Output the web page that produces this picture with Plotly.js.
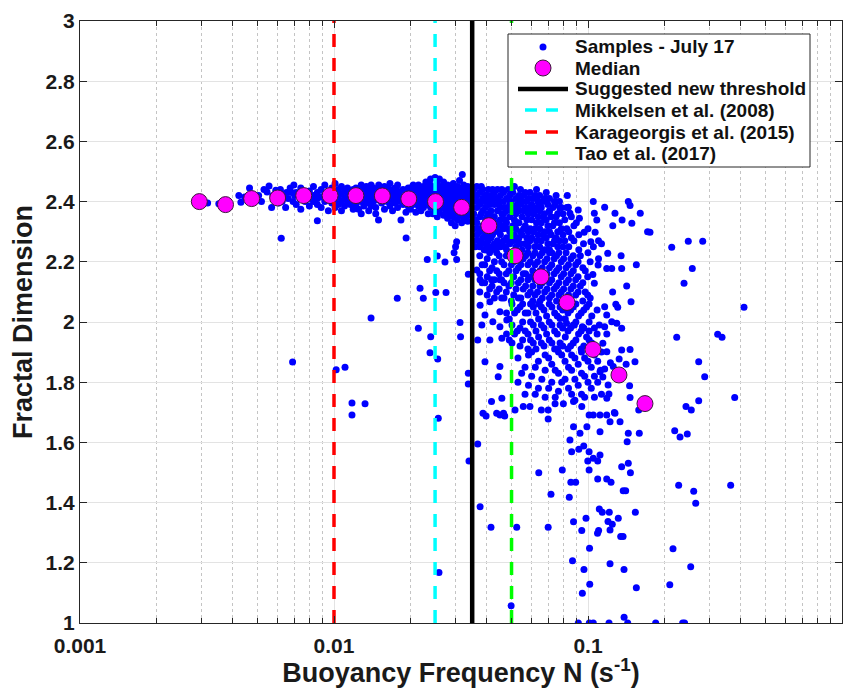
<!DOCTYPE html>
<html>
<head>
<meta charset="utf-8">
<script src="https://cdn.plot.ly/plotly-3.0.1.min.js"></script>
<style>html,body{margin:0;padding:0;background:#fff;}#chart{width:846px;height:688px;}</style>
</head>
<body>
<div id="chart"></div>
<script>
// ---------------- DATA ----------------
// Buoyancy frequency N (s^-1) and fractal dimension D of the samples, grouped by region
const bandLeft = [[0.00318,2.395],[0.00352,2.393],[0.00422,2.420],[0.00430,2.398],[0.00445,2.415],[0.00465,2.445],[0.00475,2.425],[0.00490,2.405],[0.00505,2.420],[0.00518,2.400],[0.00530,2.440],[0.00545,2.432],[0.00555,2.452],[0.00568,2.380],[0.00575,2.420],[0.00590,2.438],[0.00605,2.395],[0.00615,2.44],[0.00625,2.40],[0.00635,2.425],[0.00645,2.38],[0.00650,2.430],[0.00660,2.410],[0.00672,2.445],[0.00680,2.43],[0.00690,2.400],[0.00695,2.455],[0.00700,2.420]];

const bandMid = [[0.0071,2.39],[0.0071,2.43],[0.0074,2.41],[0.0074,2.375],[0.0074,2.445],[0.0077,2.42],[0.0077,2.40],[0.0080,2.435],[0.0080,2.385],[0.0080,2.41],[0.0083,2.42],[0.0083,2.40],[0.0083,2.45],[0.0086,2.39],[0.0086,2.43],[0.0086,2.41],[0.0089,2.44],[0.0089,2.415],[0.0089,2.38],[0.0092,2.425],[0.0092,2.40],[0.0092,2.455],[0.0095,2.41],[0.0095,2.435],[0.0095,2.37],[0.0098,2.42],[0.0098,2.395],[0.0098,2.445],[0.0101,2.43],[0.0101,2.405],[0.0101,2.38],[0.0101,2.46],[0.0104,2.415],[0.0104,2.44],[0.0104,2.39],[0.0107,2.425],[0.0107,2.40],[0.0107,2.45],[0.0107,2.37],[0.0110,2.41],[0.0110,2.435],[0.0110,2.385],[0.0113,2.42],[0.0113,2.445],[0.0113,2.40],[0.0116,2.43],[0.0116,2.39],[0.0116,2.41],[0.0119,2.44],[0.0119,2.415],[0.0119,2.375],
[0.0122,2.42],[0.0122,2.39],[0.0122,2.445],[0.0125,2.41],[0.0125,2.435],[0.0125,2.375],[0.0128,2.425],[0.0128,2.40],[0.0128,2.455],[0.0128,2.36],[0.0131,2.415],[0.0131,2.44],[0.0131,2.385],[0.0134,2.43],[0.0134,2.405],[0.0134,2.45],[0.0137,2.42],[0.0137,2.395],[0.0137,2.44],[0.0137,2.37],[0.0140,2.41],[0.0140,2.435],[0.0140,2.385],[0.0140,2.455],[0.0143,2.425],[0.0143,2.40],[0.0143,2.445],[0.0146,2.415],[0.0146,2.44],[0.0146,2.38],[0.0146,2.36],[0.0150,2.43],[0.0150,2.405],[0.0150,2.455],[0.0154,2.42],[0.0154,2.395],[0.0154,2.44],[0.0158,2.41],[0.0158,2.435],[0.0158,2.375],[0.0158,2.45],[0.0162,2.425],[0.0162,2.40],[0.0162,2.445],[0.0166,2.415],[0.0166,2.44],[0.0166,2.385],[0.0166,2.46],[0.0170,2.43],[0.0170,2.405],[0.0170,2.37],[0.0174,2.42],[0.0174,2.395],[0.0174,2.445],[0.0178,2.41],[0.0178,2.435],[0.0178,2.38],[0.0178,2.455],[0.0183,2.425],[0.0183,2.40],[0.0187,2.415],[0.0187,2.44],[0.0187,2.39],[0.0192,2.43],[0.0192,2.405],[0.0192,2.365],[0.0196,2.42],[0.0196,2.445],[0.0196,2.385]];

const bandRight = [[0.0200,2.425],[0.0200,2.40],[0.0200,2.445],[0.0200,2.375],[0.0205,2.41],[0.0205,2.435],[0.0205,2.39],[0.0205,2.455],[0.0210,2.42],[0.0210,2.40],[0.0210,2.445],[0.0210,2.365],[0.0215,2.43],[0.0215,2.41],[0.0215,2.385],[0.0215,2.455],[0.0220,2.415],[0.0220,2.44],[0.0220,2.395],[0.0220,2.37],[0.0225,2.425],[0.0225,2.40],[0.0225,2.45],[0.0225,2.38],[0.0230,2.41],[0.0230,2.435],[0.0230,2.39],[0.0230,2.465],[0.0235,2.42],[0.0235,2.395],[0.0235,2.445],[0.0235,2.36],[0.0240,2.43],[0.0240,2.405],[0.0240,2.38],[0.0240,2.455],[0.0240,2.475],[0.0245,2.415],[0.0245,2.44],[0.0245,2.39],[0.0245,2.36],[0.0250,2.42],[0.0250,2.40],[0.0250,2.445],[0.0250,2.375],[0.0250,2.48],[0.0255,2.43],[0.0255,2.41],[0.0255,2.385],[0.0255,2.46],[0.0255,2.35],[0.0260,2.415],[0.0260,2.44],[0.0260,2.395],[0.0260,2.365],[0.0260,2.475],[0.0265,2.425],[0.0265,2.40],[0.0265,2.45],[0.0265,2.38],[0.0270,2.41],[0.0270,2.435],[0.0270,2.39],[0.0270,2.355],[0.0270,2.465],[0.0275,2.42],[0.0275,2.395],[0.0275,2.445],[0.0275,2.37],[0.0280,2.43],[0.0280,2.405],[0.0280,2.38],[0.0280,2.455],[0.0280,2.345],[0.0285,2.415],[0.0285,2.44],[0.0285,2.39],[0.0285,2.36],[0.0290,2.42],[0.0290,2.40],[0.0290,2.45],[0.0290,2.375],[0.0290,2.33],[0.0295,2.43],[0.0295,2.41],[0.0295,2.385],[0.0295,2.46],[0.0295,2.35],[0.0300,2.415],[0.0300,2.44],[0.0300,2.395],[0.0300,2.365],[0.0300,2.32],[0.0306,2.425],[0.0306,2.40],[0.0306,2.45],[0.0306,2.38],[0.0306,2.34],[0.0312,2.41],[0.0312,2.435],[0.0312,2.39],[0.0312,2.355],[0.0312,2.47],[0.0318,2.42],[0.0318,2.395],[0.0318,2.445],[0.0318,2.37],[0.0318,2.33],[0.0320,2.49],[0.0324,2.43],[0.0324,2.405],[0.0324,2.38],[0.0324,2.455],[0.0324,2.345],[0.0330,2.415],[0.0330,2.44],[0.0330,2.39],[0.0330,2.36],[0.0336,2.42],[0.0336,2.40],[0.0336,2.45],[0.0336,2.375],[0.0336,2.335],[0.0342,2.43],[0.0342,2.41],[0.0342,2.385],[0.0342,2.355]];

const strayLeft = [[0.00620,2.278],[0.00687,1.867],[0.0102,1.841],[0.01105,1.850],[0.01177,1.731],[0.01177,1.691],[0.01325,1.728],[0.01399,2.013],[0.0086,2.336],[0.01497,2.339],[0.01835,2.339],[0.01923,2.279],[0.0304,2.267],[0.0301,2.250],[0.0297,2.230],[0.0304,2.208],[0.02329,2.208],[0.02551,2.219],[0.02735,2.199],[0.02181,2.112],[0.02247,2.079],[0.01775,2.079],[0.02516,2.098],[0.02761,2.098],[0.03379,2.159],[0.02148,1.979],[0.02403,1.951],[0.03135,1.998],[0.0315,1.951],[0.02388,1.898],[0.0256,1.877],[0.03379,1.830],[0.03379,1.794],[0.02574,1.680],[0.0259,1.168],[0.0340,1.538]];

const coreUpper = [[0.0355,2.44],[0.0355,2.40],[0.0355,2.36],[0.0355,2.31],[0.0355,2.27],[0.0365,2.42],[0.0365,2.38],[0.0365,2.33],[0.0365,2.29],[0.0365,2.45],[0.0375,2.43],[0.0375,2.39],[0.0375,2.35],[0.0375,2.30],[0.0375,2.25],[0.0385,2.41],[0.0385,2.37],[0.0385,2.32],[0.0385,2.28],[0.0385,2.44],[0.0395,2.42],[0.0395,2.38],[0.0395,2.34],[0.0395,2.29],[0.0395,2.26],[0.0405,2.44],[0.0405,2.40],[0.0405,2.36],[0.0405,2.31],[0.0405,2.27],[0.0415,2.42],[0.0415,2.37],[0.0415,2.33],[0.0415,2.28],[0.0415,2.24],[0.0428,2.43],[0.0428,2.39],[0.0428,2.35],[0.0428,2.30],[0.0428,2.26],[0.0440,2.41],[0.0440,2.37],[0.0440,2.32],[0.0440,2.27],[0.0440,2.44],[0.0452,2.42],[0.0452,2.38],[0.0452,2.34],[0.0452,2.29],[0.0452,2.25],[0.0465,2.43],[0.0465,2.40],[0.0465,2.36],[0.0465,2.31],[0.0465,2.27],[0.0478,2.41],[0.0478,2.37],[0.0478,2.33],[0.0478,2.28],[0.0478,2.24],[0.0492,2.42],[0.0492,2.39],[0.0492,2.35],[0.0492,2.30],[0.0492,2.26],[0.0506,2.43],[0.0506,2.38],[0.0506,2.32],[0.0506,2.27],[0.0520,2.41],[0.0520,2.36],[0.0520,2.31],[0.0520,2.25],[0.0535,2.42],[0.0535,2.37],[0.0535,2.33],[0.0535,2.28],[0.0550,2.40],[0.0550,2.35],[0.0550,2.29],[0.0550,2.24],[0.0566,2.43],[0.0566,2.38],[0.0566,2.32],[0.0566,2.26],[0.0582,2.41],[0.0582,2.36],[0.0582,2.30],[0.0582,2.25],[0.0600,2.39],[0.0600,2.34],[0.0600,2.28],[0.0618,2.42],[0.0618,2.37],[0.0618,2.31],[0.0618,2.25],[0.0636,2.40],[0.0636,2.35],[0.0636,2.29],[0.0655,2.38],[0.0655,2.33],[0.0655,2.27],[0.0675,2.41],[0.0675,2.36],[0.0675,2.30],[0.0675,2.24],[0.0695,2.39],[0.0695,2.32],[0.0695,2.26],[0.0716,2.35],[0.0716,2.29],[0.0738,2.40],[0.0738,2.33],[0.0738,2.27],[0.0760,2.36],[0.0760,2.30],[0.0760,2.25],[0.0785,2.38],[0.0785,2.31],[0.0810,2.34],[0.0810,2.27],[0.0840,2.30],[0.0840,2.25],[0.0880,2.27],[0.0880,2.32],[0.0920,2.24],[0.0920,2.29],[0.0960,2.26],[0.1000,2.31],[0.1000,2.23],[0.1050,2.25],[0.1100,2.21],[0.1100,2.27]];

const coreUpperFill = [[0.0360,2.42],[0.0360,2.34],[0.0360,2.25],[0.0370,2.40],[0.0370,2.31],[0.0370,2.27],[0.0380,2.45],[0.0380,2.36],[0.0380,2.26],[0.0390,2.40],[0.0390,2.32],[0.0390,2.24],[0.0400,2.42],[0.0400,2.35],[0.0400,2.28],[0.0410,2.39],[0.0410,2.30],[0.0410,2.25],[0.0421,2.44],[0.0421,2.35],[0.0421,2.29],[0.0434,2.41],[0.0434,2.33],[0.0434,2.24],[0.0446,2.39],[0.0446,2.30],[0.0446,2.26],[0.0458,2.44],[0.0458,2.36],[0.0458,2.32],[0.0471,2.38],[0.0471,2.34],[0.0471,2.25],[0.0485,2.44],[0.0485,2.31],[0.0485,2.27],[0.0499,2.40],[0.0499,2.37],[0.0499,2.28],[0.0513,2.45],[0.0513,2.34],[0.0513,2.29],[0.0527,2.39],[0.0527,2.33],[0.0527,2.27],[0.0542,2.44],[0.0542,2.39],[0.0542,2.30],[0.0542,2.26],[0.0558,2.42],[0.0558,2.37],[0.0558,2.31],[0.0574,2.40],[0.0574,2.34],[0.0574,2.28],[0.0591,2.43],[0.0591,2.37],[0.0591,2.31],[0.0591,2.27],[0.0609,2.41],[0.0609,2.36],[0.0609,2.30],[0.0627,2.44],[0.0627,2.38],[0.0627,2.33],[0.0627,2.27],[0.0645,2.42],[0.0645,2.37],[0.0645,2.31],[0.0645,2.25],[0.0665,2.40],[0.0665,2.35],[0.0665,2.29],[0.0685,2.43],[0.0685,2.34],[0.0685,2.28],[0.0705,2.41],[0.0705,2.37],[0.0705,2.30],[0.0705,2.24],[0.0727,2.38],[0.0727,2.32],[0.0727,2.26],[0.0749,2.42],[0.0749,2.35],[0.0749,2.28],[0.0772,2.40],[0.0772,2.33],[0.0772,2.27],[0.0797,2.36],[0.0797,2.29],[0.0797,2.25],[0.0825,2.38],[0.0825,2.31],[0.0860,2.35],[0.0860,2.28],[0.0900,2.33]];

const coreMiddle = [[0.0375,2.22],[0.0375,2.16],[0.0375,2.10],[0.0392,2.19],[0.0392,2.13],[0.0410,2.23],[0.0410,2.17],[0.0410,2.11],[0.0428,2.20],[0.0428,2.14],[0.0428,2.08],[0.0447,2.22],[0.0447,2.16],[0.0447,2.11],[0.0467,2.19],[0.0467,2.13],[0.0467,2.08],[0.0488,2.23],[0.0488,2.17],[0.0488,2.12],[0.0510,2.20],[0.0510,2.15],[0.0510,2.09],[0.0532,2.22],[0.0532,2.18],[0.0532,2.13],[0.0532,2.08],[0.0556,2.21],[0.0556,2.16],[0.0556,2.11],[0.0580,2.23],[0.0580,2.19],[0.0580,2.14],[0.0580,2.09],[0.0606,2.22],[0.0606,2.17],[0.0606,2.12],[0.0606,2.07],[0.0633,2.20],[0.0633,2.15],[0.0633,2.10],[0.0661,2.23],[0.0661,2.18],[0.0661,2.13],[0.0661,2.08],[0.0690,2.21],[0.0690,2.16],[0.0690,2.11],[0.0720,2.23],[0.0720,2.19],[0.0720,2.14],[0.0720,2.09],[0.0752,2.22],[0.0752,2.17],[0.0752,2.12],[0.0752,2.07],[0.0785,2.20],[0.0785,2.15],[0.0785,2.10],[0.0820,2.23],[0.0820,2.18],[0.0820,2.13],[0.0820,2.08],[0.0856,2.21],[0.0856,2.16],[0.0856,2.11],[0.0894,2.19],[0.0894,2.14],[0.0894,2.09],[0.0933,2.22],[0.0933,2.12],[0.0975,2.17],[0.0975,2.10],[0.1020,2.20],[0.1020,2.08],
[0.0478,2.03],[0.0478,1.96],[0.0502,2.06],[0.0502,1.99],[0.0502,1.93],[0.0527,2.04],[0.0527,1.97],[0.0553,2.06],[0.0553,2.00],[0.0553,1.94],[0.0580,2.03],[0.0580,1.96],[0.0580,1.91],[0.0609,2.05],[0.0609,1.99],[0.0609,1.93],[0.0639,2.06],[0.0639,2.01],[0.0639,1.95],[0.0671,2.04],[0.0671,1.98],[0.0671,1.92],[0.0704,2.06],[0.0704,2.00],[0.0704,1.94],[0.0739,2.03],[0.0739,1.97],[0.0739,1.91],[0.0776,2.05],[0.0776,1.99],[0.0776,1.93],[0.0814,2.06],[0.0814,2.01],[0.0814,1.95],[0.0854,2.04],[0.0854,1.98],[0.0854,1.92],[0.0896,2.06],[0.0896,2.00],[0.0896,1.94],[0.0940,2.03],[0.0940,1.97],[0.0940,1.91],[0.0987,2.05],[0.0987,1.95],[0.1035,2.02],[0.1035,1.93],[0.1086,2.04],[0.1086,1.96]];

const coreMiddleFill = [[0.0383,2.19],[0.0383,2.13],[0.0401,2.21],[0.0401,2.15],[0.0401,2.09],[0.0419,2.18],[0.0419,2.12],[0.0437,2.23],[0.0437,2.17],[0.0437,2.10],[0.0457,2.20],[0.0457,2.14],[0.0457,2.08],[0.0477,2.22],[0.0477,2.16],[0.0477,2.10],[0.0499,2.19],[0.0499,2.13],[0.0499,2.07],[0.0521,2.23],[0.0521,2.17],[0.0521,2.11],[0.0544,2.19],[0.0544,2.14],[0.0544,2.08],[0.0568,2.22],[0.0568,2.16],[0.0568,2.12],[0.0593,2.20],[0.0593,2.15],[0.0593,2.10],[0.0619,2.23],[0.0619,2.19],[0.0619,2.14],[0.0619,2.09],[0.0647,2.22],[0.0647,2.17],[0.0647,2.12],[0.0647,2.07],[0.0675,2.20],[0.0675,2.15],[0.0675,2.10],[0.0705,2.23],[0.0705,2.18],[0.0705,2.13],[0.0705,2.08],[0.0736,2.21],[0.0736,2.16],[0.0736,2.11],[0.0768,2.23],[0.0768,2.18],[0.0768,2.13],[0.0768,2.09],[0.0802,2.21],[0.0802,2.16],[0.0802,2.11],[0.0838,2.19],[0.0838,2.14],[0.0838,2.09],[0.0875,2.22],[0.0875,2.17],[0.0875,2.12],[0.0914,2.20],[0.0914,2.15],[0.0914,2.10],[0.0954,2.18],[0.0954,2.13],[0.0954,2.07],[0.0997,2.15],[0.0997,2.09],
[0.0490,2.01],[0.0490,1.94],[0.0514,2.03],[0.0514,1.96],[0.0540,2.05],[0.0540,1.98],[0.0540,1.92],[0.0566,2.03],[0.0566,1.97],[0.0594,2.06],[0.0594,2.00],[0.0594,1.94],[0.0624,2.03],[0.0624,1.97],[0.0624,1.91],[0.0655,2.05],[0.0655,1.99],[0.0655,1.93],[0.0687,2.02],[0.0687,1.96],[0.0721,2.05],[0.0721,1.99],[0.0721,1.93],[0.0757,2.02],[0.0757,1.96],[0.0757,1.91],[0.0795,2.04],[0.0795,1.98],[0.0795,1.92],[0.0834,2.03],[0.0834,1.97],[0.0834,1.91],[0.0875,2.05],[0.0875,1.99],[0.0875,1.93],[0.0918,2.02],[0.0918,1.96],[0.0963,2.04],[0.0963,1.98],[0.0963,1.92],[0.1010,2.06],[0.1010,2.00],[0.1010,1.94],[0.1060,1.98],[0.1060,1.91]];

const coreLower = [[0.0530,1.88],[0.0530,1.80],[0.0565,1.85],[0.0565,1.76],[0.0600,1.90],[0.0600,1.82],[0.0638,1.87],[0.0638,1.78],[0.0678,1.89],[0.0678,1.84],[0.0678,1.75],[0.0720,1.86],[0.0720,1.80],[0.0765,1.90],[0.0765,1.83],[0.0765,1.77],[0.0812,1.87],[0.0812,1.81],[0.0862,1.89],[0.0862,1.84],[0.0862,1.76],[0.0915,1.86],[0.0915,1.79],[0.0970,1.88],[0.0970,1.82],[0.0970,1.75],[0.1030,1.85],[0.1030,1.78],[0.1092,1.87],[0.1092,1.80],[0.1130,1.76],[0.1130,1.90],
[0.0548,1.83],[0.0583,1.89],[0.0583,1.79],[0.0620,1.85],[0.0620,1.76],[0.0658,1.81],[0.0700,1.88],[0.0700,1.78],[0.0743,1.84],[0.0743,1.75],[0.0788,1.89],[0.0788,1.80],[0.0838,1.85],[0.0838,1.78],[0.0888,1.88],[0.0888,1.81],[0.0888,1.74],[0.0943,1.90],[0.0943,1.83],[0.0943,1.76],[0.1000,1.87],[0.1000,1.80],[0.1060,1.89],[0.1060,1.82],[0.1060,1.75],[0.1120,1.84],
[0.0376,2.056],[0.0411,2.067],[0.0393,2.023],[0.0450,2.034],[0.0382,1.990],[0.0422,2.001],[0.0450,1.984],[0.0479,2.007],[0.0368,1.940],[0.0411,1.940],[0.0458,1.946],[0.0393,1.868],[0.0450,1.852],[0.0443,1.818],[0.0458,1.747],[0.0465,1.697],[0.0397,2.239],[0.0436,2.250],[0.0365,2.173],[0.0376,2.140],[0.0417,2.140],[0.0450,2.140]];

const coreEdge = [[0.0393,2.420],[0.0415,2.405],[0.0450,2.400],[0.0540,2.409],[0.0636,2.400],[0.0686,2.409],[0.0829,2.420],[0.0837,2.381],[0.1049,2.400],[0.1163,2.381],[0.1441,2.400],[0.1464,2.387],[0.1606,2.361],[0.1716,2.300],[0.1277,2.361],[0.1362,2.339],[0.1488,2.328],[0.1252,2.320],[0.1059,2.361],[0.1083,2.339],[0.0966,2.298],[0.1067,2.298],[0.1026,2.267],[0.1196,2.228],[0.1096,2.189],[0.1185,2.178],[0.1240,2.178],[0.1357,2.178],[0.1045,2.158],[0.1059,2.129],[0.1287,2.059],[0.1163,2.051],[0.0915,2.372],[0.0925,2.345],[0.0849,2.361],[0.0776,2.378],[0.0742,2.389],[0.0704,2.367],[0.0647,2.383],[0.0597,2.383],[0.0572,2.372],[0.0524,2.378],[0.0492,2.383],[0.113,2.26],[0.135,2.22],[0.155,2.19],[0.125,2.10],[0.142,2.12],
[0.1477,2.067],[0.1309,2.049],[0.1357,1.979],[0.1464,1.909],[0.1357,1.907],[0.1531,1.868],[0.1413,1.860],[0.1326,1.877],[0.1225,1.865],[0.1257,1.852],[0.1458,1.788],[0.1464,1.749],[0.1270,1.699],[0.1186,1.747],[0.1209,1.761],[0.1200,1.791],[0.1144,1.817],[0.1115,1.835],[0.1163,1.844],[0.1186,1.901],[0.1144,1.929],[0.1186,1.960],[0.1163,1.984],[0.1240,2.001],[0.1298,1.996],[0.1185,2.023],[0.1108,1.990],[0.1010,1.970],[0.0950,1.984],[0.0884,1.990],[0.0823,1.996],[0.0776,2.012]];

const tailLow = [[0.0368,1.595],[0.0376,1.386],[0.0415,1.318],[0.0524,1.318],[0.0498,1.057],[0.0640,1.499],[0.0697,1.318],[0.0715,1.428],[0.0792,1.508],[0.0844,1.418],[0.0849,1.608],[0.0862,1.569],[0.0856,1.468],[0.0894,1.468],[0.0877,1.336],[0.0869,1.207],[0.0945,1.307],[0.0964,1.178],[0.1016,1.129],[0.0950,1.099],[0.0982,1.348],[0.1014,1.248],[0.0920,1.577],[0.0962,1.588],[0.1010,1.569],[0.0998,1.538],[0.1010,1.508],[0.1049,1.547],[0.1092,1.538],[0.1115,1.558],[0.1115,1.635],[0.1092,1.478],[0.1185,1.478],[0.1232,1.468],[0.1108,1.379],[0.1138,1.368],[0.1213,1.368],[0.1536,1.368],[0.1199,1.337],[0.1246,1.328],[0.1316,1.348],[0.1101,1.307],[0.1090,1.298],[0.1221,1.309],[0.1345,1.287],[0.1374,1.287],[0.1221,1.197],[0.1386,1.178],[0.1550,1.117],[0.1357,1.519],[0.1441,1.531],[0.1469,1.499],[0.1376,1.439],[0.1407,1.439],[0.1426,1.602],[0.1441,1.630],[0.1592,1.630],[0.1337,1.669],[0.1221,1.669],[0.1277,1.697],[0.1185,1.691],[0.1115,1.691],[0.1049,1.691],[0.1010,1.691],[0.0990,1.652],[0.0930,1.630],[0.0877,1.652],[0.0945,1.719],[0.0877,1.736],[0.0800,1.728],[0.0742,1.728],[0.0697,1.708],[0.0697,1.678],[0.0655,1.708],[0.0591,1.719],[0.0556,1.719],[0.0516,1.708],[0.0470,1.688],[0.0450,1.691],[0.0437,1.697],[0.0397,1.688],[0.0386,1.697],[0.0417,1.736],[0.1584,1.708],
[0.0916,1],[0.1012,1],[0.1049,1],[0.1210,1],[0.1433,1],[0.1847,1],[0.2359,1],[0.2400,1],[0.1387,1.019]];

const tailRight = [[0.1754,2.298],[0.2136,2.248],[0.2482,2.268],[0.2829,2.268],[0.2574,2.178],[0.2388,2.129],[0.4113,2.049],[0.2235,1.949],[0.3240,1.959],[0.3370,1.949],[0.2728,1.868],[0.2880,1.818],[0.2728,1.738],[0.3781,1.749],[0.2431,1.719],[0.2551,1.708],[0.2195,1.639],[0.2303,1.618],[0.2460,1.628],[0.2275,1.458],[0.2607,1.438],[0.2655,1.398],[0.3645,1.458],[0.2161,1.247],[0.2537,1.187],[0.2099,1.127]];

// Bin medians
const medianN = [0.00295,0.00374,0.00474,0.00600,0.00760,0.00965,0.0122,0.0155,0.0197,0.0251,0.0318,0.0407,0.0516,0.0653,0.0827,0.1046,0.1324,0.1676];
const medianD = [2.400,2.390,2.410,2.412,2.420,2.420,2.420,2.419,2.409,2.400,2.381,2.320,2.220,2.150,2.065,1.909,1.824,1.729];

// Threshold lines
const thresholdNames = ['Suggested new threshold','Mikkelsen et al. (2008)','Karageorgis et al. (2015)','Tao et al. (2017)'];
const thresholdN = [0.035, 0.025, 0.01, 0.05];

// Legend labels (in order)
const legendLabels = ['Samples - July 17', 'Median'].concat(thresholdNames);

// Axis ticks
const xTickVals = [0.001, 0.01, 0.1, 1];
const xTickText = ['0.001', '0.01', '0.1', '1'];
const xMinorVals = [0.002,0.003,0.004,0.005,0.006,0.007,0.008,0.009,0.02,0.03,0.04,0.05,0.06,0.07,0.08,0.09,0.2,0.3,0.4,0.5,0.6,0.7,0.8,0.9];
const yRange = [1, 3];

// ---------------- CHART ----------------
const samples = [].concat(bandLeft, bandMid, bandRight, strayLeft, coreUpper, coreUpperFill, coreMiddle, coreMiddleFill, coreLower, coreEdge, tailLow, tailRight);
const FONT = 'Liberation Sans, Arial, Helvetica, sans-serif';

const traces = [];
traces.push({
  type: 'scatter', mode: 'markers', name: legendLabels[0], showlegend: false,
  x: samples.map(p => p[0]), y: samples.map(p => p[1]),
  marker: {color: '#0000ff', size: 7, line: {width: 0}},
  hoverinfo: 'skip'
});
traces.push({
  type: 'scatter', mode: 'markers', name: legendLabels[1], showlegend: false,
  x: medianN, y: medianD,
  marker: {color: '#ff00ff', size: 16, line: {color: '#3a1a3a', width: 1}}
});
const lineStyles = [
  {color: '#000000', width: 4.5, dash: 'solid'},
  {color: '#00ffff', width: 3.5, dash: '13px,11px'},
  {color: '#ff0000', width: 3.5, dash: '13px,11px'},
  {color: '#00ff00', width: 3.5, dash: '13px,11px'}
];
thresholdNames.forEach((nm, i) => {
  traces.push({
    type: 'scatter', mode: 'lines', name: nm, showlegend: false,
    x: [thresholdN[i], thresholdN[i]], y: yRange,
    line: lineStyles[i], hoverinfo: 'skip'
  });
});

// ----- legend box drawn in plot-area (paper) coordinates -----
const PL = 80, PR = 842, PT = 21, PB = 623;           // plot area in pixels
const px2x = p => (p - PL) / (PR - PL);
const py2y = p => (PB - p) / (PB - PT);
const legRowsPx = [47, 68, 89, 110, 132, 153];
const shapes = [];
const annotations = [];
shapes.push({type: 'rect', xref: 'paper', yref: 'paper', layer: 'above',
  x0: px2x(508), x1: px2x(810), y0: py2y(167), y1: py2y(34),
  fillcolor: '#ffffff', line: {color: '#262626', width: 1}});
// samples symbol
shapes.push({type: 'circle', xref: 'paper', yref: 'paper', layer: 'above',
  x0: px2x(543 - 3.5), x1: px2x(543 + 3.5), y0: py2y(legRowsPx[0] + 3.5), y1: py2y(legRowsPx[0] - 3.5),
  fillcolor: '#0000ff', line: {width: 0}});
// median symbol
shapes.push({type: 'circle', xref: 'paper', yref: 'paper', layer: 'above',
  x0: px2x(543 - 8), x1: px2x(543 + 8), y0: py2y(legRowsPx[1] + 8), y1: py2y(legRowsPx[1] - 8),
  fillcolor: '#ff00ff', line: {color: '#3a1a3a', width: 1}});
// line symbols
shapes.push({type: 'line', xref: 'paper', yref: 'paper', layer: 'above',
  x0: px2x(518), x1: px2x(568), y0: py2y(legRowsPx[2]), y1: py2y(legRowsPx[2]),
  line: {color: '#000000', width: 4.5}});
[1, 2, 3].forEach(i => {
  shapes.push({type: 'line', xref: 'paper', yref: 'paper', layer: 'above',
    x0: px2x(525), x1: px2x(558), y0: py2y(legRowsPx[i + 2]), y1: py2y(legRowsPx[i + 2]),
    line: {color: lineStyles[i].color, width: 3.5, dash: '12px,9px'}});
});
legendLabels.forEach((t, i) => {
  annotations.push({xref: 'paper', yref: 'paper', x: px2x(573), y: py2y(legRowsPx[i]),
    xanchor: 'left', yanchor: 'middle', showarrow: false, text: t,
    font: {family: FONT, size: 19, color: '#111111', weight: 'bold'}});
});

const axisCommon = {
  showline: true, linecolor: '#262626', linewidth: 1, mirror: 'allticks',
  ticks: 'inside', ticklen: 7, tickwidth: 1, tickcolor: '#262626',
  tickfont: {family: FONT, size: 21, color: '#1a1a1a', weight: 'bold'},
  zeroline: false, showgrid: true, gridcolor: '#e3e3e3', gridwidth: 1
};

const layout = {
  width: 846, height: 688,
  margin: {l: PL, r: 846 - PR, t: PT, b: 688 - PB},
  paper_bgcolor: '#ffffff', plot_bgcolor: '#ffffff',
  showlegend: false,
  shapes: shapes,
  annotations: annotations,
  xaxis: Object.assign({}, axisCommon, {
    type: 'log', range: [-3, 0],
    tickmode: 'array', tickvals: xTickVals, ticktext: xTickText,
    ticklabelstandoff: 4,
    minor: {tickmode: 'array', tickvals: xMinorVals, ticks: 'inside', ticklen: 5, tickcolor: '#262626',
            showgrid: true, gridcolor: '#c4c4c4', griddash: 'dot', gridwidth: 1},
    title: {text: 'Buoyancy Frequency N (s<sup>-1</sup>)', standoff: 2,
            font: {family: FONT, size: 27, color: '#1a1a1a', weight: 'bold'}}
  }),
  yaxis: Object.assign({}, axisCommon, {
    range: yRange, dtick: 0.2, tick0: 1,
    title: {text: 'Fractal Dimension', standoff: 5,
            font: {family: FONT, size: 27, color: '#1a1a1a', weight: 'bold'}}
  })
};

Plotly.newPlot('chart', traces, layout, {staticPlot: true, displayModeBar: false});
</script>
</body>
</html>
